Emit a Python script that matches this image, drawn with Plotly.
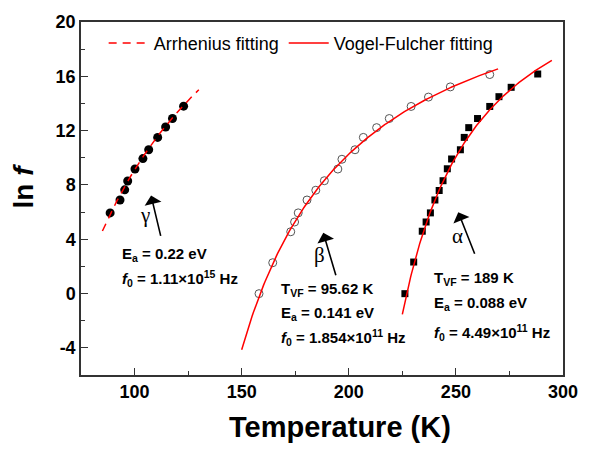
import numpy as np
import plotly.graph_objects as go

# ---- data ----
gamma_T = [88.6, 93.2, 95.4, 96.8, 100.2, 103.9, 106.6, 110.8, 114.5, 117.7, 122.9]
gamma_lnf = [5.94, 6.89, 7.64, 8.29, 9.17, 9.94, 10.59, 11.50, 12.27, 12.89, 13.80]

beta_T = [158.1, 164.5, 172.9, 174.7, 176.4, 180.5, 184.6, 188.6, 194.9, 196.8,
          202.9, 206.8, 213.0, 218.9, 229.1, 237.2, 247.4, 265.8]
beta_lnf = [-0.01, 2.27, 4.55, 5.27, 5.94, 6.89, 7.61, 8.31, 9.17, 9.89,
            10.59, 11.50, 12.22, 12.89, 13.78, 14.47, 15.22, 16.13]

alpha_T = [226.2, 230.3, 234.3, 236.1, 238.1, 240.2, 242.2, 244.0, 246.0, 248.0,
           252.1, 253.9, 256.0, 260.1, 265.8, 270.1, 275.8, 288.2]
alpha_lnf = [-0.01, 2.32, 4.59, 5.27, 5.94, 6.89, 7.59, 8.31, 9.19, 9.91,
             10.59, 11.50, 12.22, 12.89, 13.78, 14.50, 15.19, 16.17]

# fit parameters shown in the chart
k_B = 8.617e-5  # eV/K
gamma_Ea, gamma_f0 = 0.22, 1.11e15
beta_Ea, beta_f0, beta_TVF = 0.141, 1.854e11, 95.62
alpha_Ea, alpha_f0, alpha_TVF = 0.088, 4.49e11, 189.0
gamma_fit_range = (85.0, 130.0)
beta_fit_range = (150.0, 269.7)
alpha_fit_range = (225.0, 294.8)

x_ticks = [100, 150, 200, 250, 300]
y_ticks = [-4, 0, 4, 8, 12, 16, 20]
y_ticktext = ["-4", "0", "4", "8", "12", "16", "20"]

# ---- fit curves ----
tg = np.linspace(*gamma_fit_range, 100)
lg = np.log(gamma_f0) - gamma_Ea / (k_B * tg)
tb = np.linspace(*beta_fit_range, 200)
lb = np.log(beta_f0) - beta_Ea / (k_B * (tb - beta_TVF))
ta = np.linspace(*alpha_fit_range, 200)
la = np.log(alpha_f0) - alpha_Ea / (k_B * (ta - alpha_TVF))

SANS = "Liberation Sans, Arial, sans-serif"
SERIF = "Liberation Serif, Times New Roman, serif"
RED = "#ff0000"

fig = go.Figure()
fig.add_trace(go.Scatter(x=gamma_T, y=gamma_lnf, mode="markers", showlegend=False,
                         marker=dict(symbol="circle", size=9, color="black")))
fig.add_trace(go.Scatter(x=beta_T, y=beta_lnf, mode="markers", showlegend=False,
                         marker=dict(symbol="circle-open", size=8, color="#555555",
                                     line=dict(width=1, color="#555555"))))
fig.add_trace(go.Scatter(x=alpha_T, y=alpha_lnf, mode="markers", showlegend=False,
                         marker=dict(symbol="square", size=7, color="black")))

fig.add_trace(go.Scatter(x=tg, y=lg, mode="lines", name="Arrhenius fitting",
                         line=dict(color=RED, width=1.5, dash="8px,6px")))
fig.add_trace(go.Scatter(x=tb, y=lb, mode="lines", name="Vogel-Fulcher fitting",
                         line=dict(color=RED, width=1.5)))
fig.add_trace(go.Scatter(x=ta, y=la, mode="lines", showlegend=False,
                         line=dict(color=RED, width=1.5)))

ann = []
# greek labels
for txt, x, y in [("γ", 104.8, 5.75), ("β", 186.5, 2.85), ("α", 250.8, 4.25)]:
    ann.append(dict(x=x, y=y, xref="x", yref="y", text=txt, showarrow=False,
                    font=dict(family=SERIF, size=21, color="black")))
# arrows
for x, y, ax, ay in [(107.7, 7.23, 10, 42), (188.1, 4.47, 13, 44), (251.1, 5.99, 17, 43)]:
    ann.append(dict(x=x, y=y, xref="x", yref="y", ax=ax, ay=ay, text="",
                    showarrow=True, arrowhead=1, arrowsize=1.8, arrowwidth=1.6,
                    arrowcolor="black", standoff=0, startstandoff=0))

def label(x, y, text):
    ann.append(dict(x=x, y=y, xref="x", yref="y", text="<b>" + text + "</b>",
                    showarrow=False, xanchor="left", yanchor="middle",
                    font=dict(family=SANS, size=15, color="black")))

label(93.0, 2.88, "E<sub>a</sub> = 0.22 eV")
label(93.0, 1.12, "<i>f</i><sub>0</sub> = 1.11×10<sup>15</sup> Hz")
label(167.3, 0.33, "T<sub>VF</sub> = 95.62 K")
label(167.3, -1.47, "E<sub>a</sub> = 0.141 eV")
label(167.3, -3.27, "<i>f</i><sub>0</sub> = 1.854×10<sup>11</sup> Hz")
label(239.0, 1.10, "T<sub>VF</sub> = 189 K")
label(239.0, -0.76, "E<sub>a</sub> = 0.088 eV")
label(239.0, -2.90, "<i>f</i><sub>0</sub> = 4.49×10<sup>11</sup> Hz")

# axis titles (pixel positions converted to paper coords below)
ann.append(dict(x=345, y=428, xref="paper", yref="paper", text="<b>Temperature (K)</b>",
                showarrow=False, xanchor="center", yanchor="middle",
                font=dict(family=SANS, size=29, color="black")))
ann.append(dict(x=22, y=182, xref="paper", yref="paper", text="<b>ln <i>f</i></b>",
                showarrow=False, textangle=-90, xanchor="center", yanchor="middle",
                font=dict(family=SANS, size=28, color="black")))

L, R, T, B = 81, 17, 14, 75
W, H = 590, 450
pw, ph = W - L - R, H - T - B
for a in ann[-2:]:
    a["x"] = (a["x"] - L) / pw
    a["y"] = 1 - (a["y"] - T) / ph

axis_common = dict(showline=True, mirror=True, linecolor="#333333", linewidth=1.5,
                   ticks="inside", ticklen=7, tickwidth=1.3, tickcolor="#333333",
                   showgrid=False, zeroline=False,
                   tickfont=dict(family=SANS, size=18, color="black"))

fig.update_layout(
    width=W, height=H, margin=dict(l=L, r=R, t=T, b=B),
    plot_bgcolor="white", paper_bgcolor="white",
    xaxis=dict(range=[75, 300], tickmode="array", tickvals=x_ticks,
               ticktext=["<b>%d</b>" % v for v in x_ticks],
               minor=dict(tickmode="linear", tick0=0, dtick=25, ticks="inside",
                          ticklen=4, tickcolor="#333333"),
               **axis_common),
    yaxis=dict(range=[-6, 20], tickmode="array", tickvals=y_ticks,
               ticktext=["<b>%s</b>" % t for t in y_ticktext],
               minor=dict(tickmode="linear", tick0=0, dtick=2, ticks="inside",
                          ticklen=4, tickcolor="#333333"),
               **axis_common),
    legend=dict(orientation="h", x=0.047, y=0.94, xanchor="left", yanchor="middle",
                bgcolor="rgba(0,0,0,0)", font=dict(family=SANS, size=18, color="black"),
                itemwidth=40, tracegroupgap=0),
    annotations=ann,
)

fig.write_html("out.html")
